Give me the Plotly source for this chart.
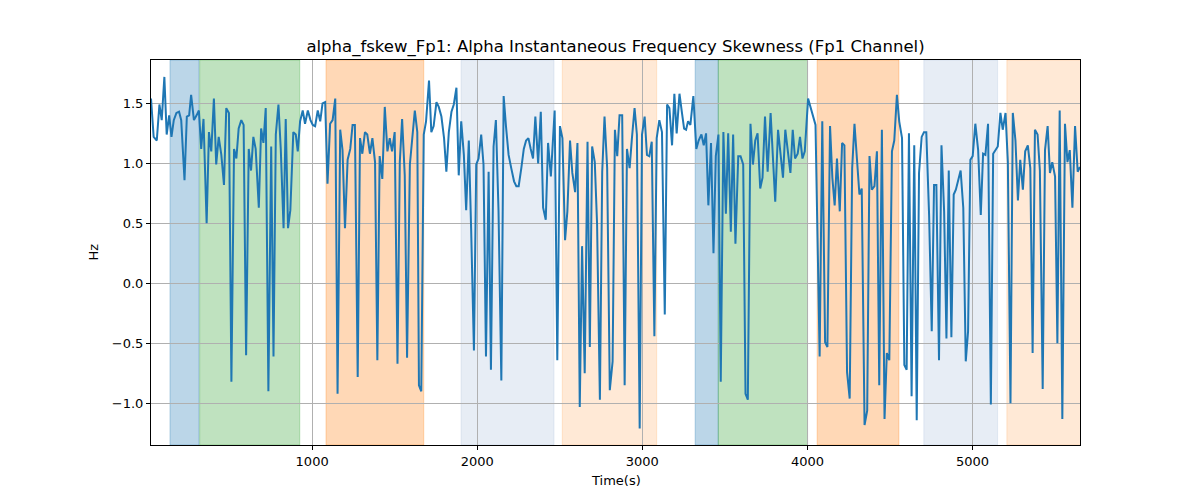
import plotly.graph_objects as go

# ---- data ----
time_s = [
    24, 40, 59, 75, 89, 105, 119, 134, 148, 162, 178, 194, 207, 227, 241, 255, 267, 284, 300, 314,
    328, 342, 361, 375, 389, 405, 419, 434, 450, 466, 480, 496, 511, 527, 541, 555, 571, 585, 600, 616,
    630, 644, 658, 677, 691, 705, 719, 735, 752, 766, 780, 796, 810, 827,
    840, 854, 868, 886, 901, 913, 927, 943, 957, 974, 990, 1004, 1018, 1034, 1049, 1063, 1079, 1093,
    1109, 1124, 1140, 1154, 1170, 1184, 1199, 1215, 1231, 1245, 1259, 1276, 1290, 1304, 1320, 1334,
    1350, 1365, 1381, 1395, 1409, 1425, 1440, 1456, 1470, 1484, 1500, 1517, 1531, 1545, 1561, 1575,
    1592, 1606, 1622, 1637,
    1647, 1661, 1676, 1690, 1708, 1722, 1736, 1753, 1767, 1783, 1799, 1813, 1828, 1844, 1858, 1874,
    1888, 1903, 1919, 1933, 1949, 1963, 1980, 1994, 2008, 2024, 2038, 2053, 2069, 2083, 2099, 2113,
    2129, 2146, 2160, 2174, 2190, 2206, 2223, 2237, 2251, 2267, 2282, 2296, 2310, 2324, 2338, 2352,
    2369, 2385, 2399, 2415, 2429, 2446,
    2469, 2485, 2501, 2516, 2532, 2546, 2562, 2576, 2593, 2607, 2621, 2635, 2651, 2668, 2682, 2696,
    2712, 2726, 2743, 2757, 2771, 2787, 2803, 2820, 2834, 2848, 2862, 2878, 2893, 2907, 2923, 2937,
    2953, 2967, 2984, 2998, 3014, 3028, 3042, 3057, 3073, 3087, 3103, 3119, 3136, 3150, 3164, 3180,
    3194, 3208, 3225, 3239, 3253,
    3265, 3277, 3291, 3309, 3327, 3341, 3358, 3372, 3386, 3400, 3416, 3431, 3445, 3461, 3475, 3491,
    3506, 3520, 3536, 3550, 3564, 3581, 3595, 3611, 3625, 3639, 3655, 3670, 3684, 3698, 3714, 3728,
    3743, 3759, 3777, 3791, 3805, 3822, 3836, 3852, 3866, 3880, 3897, 3911, 3925, 3941, 3955, 3970,
    3984, 4004, 4020, 4035, 4049,
    4074, 4090, 4107, 4121, 4137, 4151, 4165, 4179, 4196, 4210, 4224, 4240, 4256, 4271, 4285, 4301,
    4315, 4329, 4346, 4362, 4376, 4390, 4406, 4421, 4435, 4451, 4467, 4481, 4496, 4512, 4526, 4542,
    4556, 4573, 4587, 4601, 4615, 4631, 4647, 4662, 4676, 4692, 4706, 4720, 4737, 4753, 4767, 4781,
    4797, 4812, 4828, 4842, 4856, 4872, 4886,
    4899, 4914, 4928, 4944, 4959, 4973, 4987, 5001, 5017, 5034, 5050, 5064, 5078, 5094, 5111, 5125,
    5139, 5153, 5169, 5183, 5200, 5214, 5230, 5244, 5260, 5275, 5289, 5305, 5319, 5335, 5350, 5364,
    5378, 5394, 5408, 5425, 5439, 5455, 5469, 5483, 5500, 5514, 5528, 5544, 5560, 5575, 5589, 5605,
    5621, 5637, 5651,
]

skew_hz = [
    1.54, 1.22, 1.19, 1.49, 1.36, 1.72, 1.24, 1.40, 1.22, 1.36, 1.42, 1.43, 1.36, 0.86, 1.39, 1.40, 1.57, 1.36, 1.40, 1.44,
    1.12, 1.37, 0.50, 1.26, 1.10, 1.54, 0.99, 1.22, 1.07, 0.82, 1.46, 1.42, -0.82, 1.12, 1.04, 1.29, 1.36, 1.32, -0.60, 1.12,
    0.94, 1.22, 1.12, 0.63, 1.29, 1.17, 1.46, -0.90, 1.14, -0.61, 1.24, 1.49, 1.12, 0.46,
    1.37, 0.46, 0.61, 1.26, 1.24, 1.10, 1.35, 1.44, 1.33, 1.44, 1.36, 1.32, 1.31, 1.44, 1.35, 1.50, 1.51, 0.83,
    1.33, 1.36, 1.54, -0.92, 1.28, 1.11, 0.46, 1.03, 1.12, 1.32, 1.32, -0.78, 1.21, 1.08, 1.26, 1.24,
    1.08, 1.21, 1.01, -0.64, 1.06, 0.87, 1.47, 1.10, 1.21, 1.10, 1.26, -0.67, 1.01, 1.37, 0.90, -0.62,
    0.99, 1.19, 1.44, 1.26,
    -0.85, -0.90, 1.24, 1.35, 1.69, 1.26, 1.31, 1.51, 1.47, 1.39, 1.21, 0.93, 1.26, 1.43, 1.49, 1.63,
    0.90, 1.35, 1.07, 0.61, 1.19, 0.46, -0.56, 0.99, 1.04, 1.24, 0.99, -0.61, 0.93, -0.72, 1.14, 1.36,
    0.60, -0.81, 1.56, 1.31, 1.07, 0.96, 0.85, 0.81, 0.81, 0.96, 1.12, 1.19, 1.21, 1.12, 1.04, 1.39,
    1.00, 1.43, 0.63, 0.53, 1.17, 0.89,
    1.44, -0.64, 1.31, 1.21, 0.36, 0.60, 1.19, 0.92, 0.76, 1.17, -1.03, 0.31, -0.75, 1.18, -0.53, 1.14,
    1.01, 0.49, -0.97, 0.93, 1.39, 0.96, -0.89, -0.65, 1.28, 1.06, 1.40, 1.40, -0.85, 1.12, 0.96, 1.21,
    1.46, 1.24, -1.21, 1.24, 1.39, 1.07, 1.06, 1.18, -0.44, 1.21, 1.36, 1.26, -0.26, 1.49, 1.46, 1.15,
    1.58, 1.25, 1.58, 1.43, 1.29,
    1.28, 1.35, 1.32, 1.56, 1.12, 1.19, 1.24, 1.15, 1.25, 0.65, 1.17, 0.25, 1.06, 1.24, -0.82, 1.26,
    0.58, 1.25, 0.43, 1.24, 0.33, 1.06, 1.06, 0.99, -0.92, -0.97, 1.33, 0.99, 1.19, 1.25, 0.79, 0.88,
    1.39, 0.93, 1.42, 1.01, 0.68, 1.28, 1.10, 0.88, 1.28, 1.12, 0.92, 1.28, 1.04, 1.08, 1.22, 1.04,
    1.10, 1.54, 1.46, 1.38, 1.32,
    -0.61, 1.35, -0.49, -0.53, 1.31, 0.88, 0.65, 1.04, 0.60, 1.17, 1.15, -0.74, -0.96, 0.96, 1.33, 1.01,
    0.74, 0.79, -1.18, -1.06, 1.06, 0.78, 0.81, 1.10, -0.85, 1.28, -1.13, -0.58, -0.64, 1.10, 1.19, 1.57,
    1.35, 1.21, -0.68, -0.72, 1.25, -0.94, 1.15, -1.14, 0.92, 1.22, 1.26, 1.26, 0.57, -0.40, 0.82, 0.82,
    -0.64, 1.15, 0.60, -0.46, 0.94, -0.45, 0.74,
    0.78, 0.86, 0.94, 0.63, -0.65, -0.40, 1.03, 1.06, 1.33, 1.11, 0.57, 1.08, 1.07, 1.33, -1.01, 1.08,
    1.11, 1.14, 1.42, 1.28, 1.42, 1.01, -1.00, 1.42, 1.19, 0.69, 1.03, 0.78, 1.10, 1.15, 0.96, -0.58,
    1.28, 1.24, 0.94, -0.88, 1.11, 1.31, 0.92, 1.01, 0.89, -0.50, 1.44, -1.13, 1.33, 1.01, 1.11, 0.63,
    1.31, 0.93, 0.97,
]

# shaded periods: (start, end, colour)
span_start = [139, 319, 1084, 1902, 2515, 3320, 3460, 4059, 4705, 5208]
span_end = [315, 925, 1676, 2465, 3087, 3460, 4001, 4554, 5152, 5700]
span_color = [
    "rgba(31,119,180,0.3)", "rgba(44,160,44,0.3)", "rgba(255,127,14,0.3)",
    "rgba(176,196,222,0.3)", "rgba(255,127,14,0.17)",
    "rgba(31,119,180,0.3)", "rgba(44,160,44,0.3)", "rgba(255,127,14,0.3)",
    "rgba(176,196,222,0.3)", "rgba(255,127,14,0.17)",
]

x_ticks = [1000, 2000, 3000, 4000, 5000]
y_ticks = [-1.0, -0.5, 0.0, 0.5, 1.0, 1.5]

FONT = "DejaVu Sans"
W, H = 1184, 484  # page body has an 8px margin

fig = go.Figure()
fig.add_trace(go.Scatter(
    x=time_s, y=skew_hz, mode="lines",
    line=dict(color="#1f77b4", width=2),
    showlegend=False,
))

for s, e, c in zip(span_start, span_end, span_color):
    fig.add_shape(type="rect", xref="x", yref="paper", x0=s, x1=e, y0=0, y1=1,
                  fillcolor=c, line=dict(color=c, width=1), layer="below")

axis_common = dict(
    showgrid=True, gridcolor="#b0b0b0", gridwidth=0.8,
    zeroline=False, showline=True, linecolor="black", linewidth=1, mirror=True,
    ticks="outside", ticklen=4, tickcolor="black", tickwidth=1,
    tickfont=dict(family=FONT, size=13, color="black"),
)

fig.update_xaxes(range=[24, 5651], tickvals=x_ticks, **axis_common)
fig.update_yaxes(range=[-1.347, 1.861], tickvals=y_ticks, tickformat=".1f", **axis_common)

fig.update_layout(
    width=W, height=H,
    margin=dict(l=143, r=W - 1072, t=52, b=H - 437),
    plot_bgcolor="white", paper_bgcolor="white",
    font=dict(family=FONT, color="black"),
    title=dict(
        text="alpha_fskew_Fp1: Alpha Instantaneous Frequency Skewness (Fp1 Channel)",
        font=dict(family=FONT, size=16.5, color="black"),
        x=(143 + 1072) / 2 / W, xanchor="center",
        y=1 - 38 / H, yanchor="middle", xref="container", yref="container",
    ),
    annotations=[
        dict(text="Time(s)", xref="paper", yref="paper", x=0.5, y=-0.0935,
             xanchor="center", yanchor="middle", showarrow=False,
             font=dict(family=FONT, size=13, color="black")),
        dict(text="Hz", xref="paper", yref="paper", x=-0.0624, y=0.5,
             xanchor="center", yanchor="middle", showarrow=False, textangle=-90,
             font=dict(family=FONT, size=13, color="black")),
    ],
)

fig.write_html("out.html")
